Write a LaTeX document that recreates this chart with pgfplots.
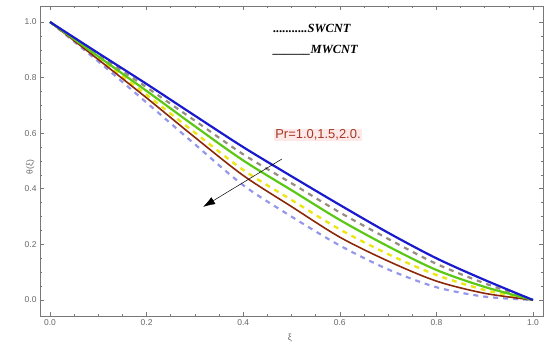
\documentclass[border=0pt]{standalone}
\usepackage{pgfplots}
\pgfplotsset{compat=1.18}
\usetikzlibrary{arrows.meta}
\usepackage{fontspec}
\setmainfont{Liberation Serif}
\newfontfamily\arial{Liberation Sans}
\definecolor{cblue}{RGB}{25,25,205}
\definecolor{cgreen}{RGB}{90,200,20}
\definecolor{cbrown}{RGB}{140,40,10}
\definecolor{cgray}{RGB}{150,140,130}
\definecolor{cyellow}{RGB}{235,230,20}
\definecolor{clav}{RGB}{150,150,235}
\definecolor{prtext}{RGB}{165,55,35}
\definecolor{prbg}{RGB}{255,232,232}
\definecolor{framegray}{RGB}{120,120,120}
\begin{document}
\begin{tikzpicture}[x=1bp,y=1bp]
\begin{axis}[
  at={(0bp,0bp)}, anchor=south west,
  scale only axis, width=503bp, height=310bp,
  xmin=-0.0207, xmax=1.0207, ymin=-0.0576, ymax=1.0576,
  xtick={0,0.2,0.4,0.6,0.8,1.0}, ytick={0,0.2,0.4,0.6,0.8,1.0},
  minor tick num=3,
  major tick length=4bp, minor tick length=2.5bp,
  axis line style={framegray, line width=0.8pt},
  every tick/.style={framegray, line width=0.6pt},
  /pgf/number format/assume math mode=true,
  xticklabel style={font=\arial\fontsize{8.5}{10}\selectfont, text=black!60},
  yticklabel style={font=\arial\fontsize{8.5}{10}\selectfont, text=black!60},
  xticklabel={\pgfmathprintnumber[fixed,fixed zerofill,precision=1]{\tick}},
  yticklabel={\pgfmathprintnumber[fixed,fixed zerofill,precision=1]{\tick}},
  xlabel={\arial ξ}, xlabel style={font=\fontsize{9}{10}\selectfont, text=black!60, at={(axis description cs:0.497,0)}, anchor=north, yshift=-14bp},
  ylabel={\arial θ(ξ)}, ylabel style={font=\fontsize{8.5}{10}\selectfont, text=black!60, at={(axis description cs:0,0.48)}, yshift=2bp},
  clip=false,
]
% bottom dashed (lavender)
\addplot[clav, line width=2.2pt, dash pattern=on 5bp off 5bp, smooth] coordinates {
(0,1) (0.1,0.858) (0.2,0.71) (0.3,0.56) (0.4,0.413) (0.5,0.3) (0.6,0.196) (0.7,0.11) (0.8,0.046) (0.9,0.012) (1,0)};
% yellow dashed
\addplot[cyellow, line width=2.4pt, dash pattern=on 5bp off 5bp, smooth] coordinates {
(0,1) (0.1,0.87) (0.2,0.738) (0.3,0.602) (0.4,0.468) (0.5,0.36) (0.6,0.254) (0.7,0.165) (0.8,0.09) (0.9,0.036) (1,0)};
% gray dashed
\addplot[cgray, line width=2.2pt, dash pattern=on 5bp off 5bp, smooth] coordinates {
(0,1) (0.1,0.882) (0.2,0.765) (0.3,0.645) (0.4,0.524) (0.5,0.42) (0.6,0.315) (0.7,0.22) (0.8,0.13) (0.9,0.06) (1,0)};
% brown solid
\addplot[cbrown, line width=1.6pt, smooth] coordinates {
(0,1) (0.1,0.865) (0.2,0.727) (0.3,0.585) (0.4,0.448) (0.5,0.336) (0.6,0.226) (0.7,0.14) (0.8,0.068) (0.9,0.024) (1,0)};
% green solid
\addplot[cgreen, line width=2.2pt, smooth] coordinates {
(0,1) (0.1,0.876) (0.2,0.752) (0.3,0.625) (0.4,0.502) (0.5,0.395) (0.6,0.288) (0.7,0.193) (0.8,0.108) (0.9,0.047) (1,0)};
% blue solid
\addplot[cblue, line width=2.2pt, smooth] coordinates {
(0,1) (0.1,0.888) (0.2,0.777) (0.3,0.663) (0.4,0.55) (0.5,0.445) (0.6,0.342) (0.7,0.242) (0.8,0.15) (0.9,0.072) (1,0)};
% arrow
\draw[black, line width=0.5pt, -{Latex[length=12bp,width=8bp]}] (axis cs:0.48,0.507) -- (axis cs:0.317,0.335);
% labels
\node[anchor=west, inner sep=0pt, font=\fontsize{12.5}{14}\selectfont\bfseries\itshape] at (axis cs:0.462,0.975) {...........SWCNT};
\node[anchor=west, inner sep=0pt, font=\fontsize{12.5}{14}\selectfont\bfseries\itshape] at (axis cs:0.462,0.899) {\_\_\_\_\_\_MWCNT};
\node[anchor=west, inner sep=1pt, fill=prbg, text=prtext, font=\arial\fontsize{13}{15}\selectfont] at (axis cs:0.464,0.594) {Pr=1.0,1.5,2.0.};
\end{axis}
\pgfresetboundingbox
\useasboundingbox (-40bp,-37bp) rectangle (510bp,316bp);
\end{tikzpicture}
\end{document}
